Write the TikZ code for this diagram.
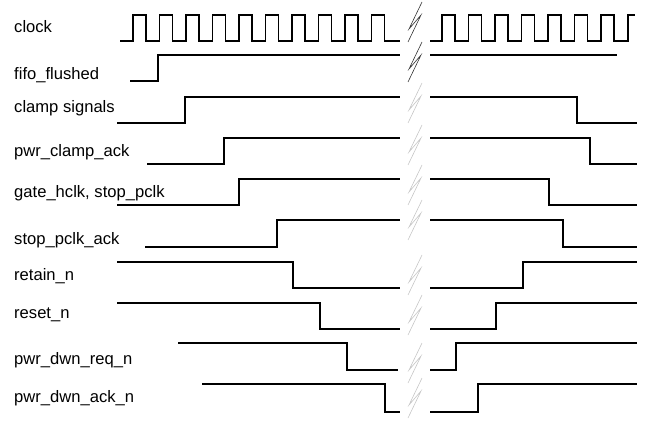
\documentclass[tikz,border=0pt]{standalone}
\usepackage{fontspec}
\setmainfont{Liberation Sans}
\usepackage{tikz}
\usetikzlibrary{positioning}

\tikzset{
  sig/.style={line width=1.7pt, line join=miter},
  lbl/.style={anchor=west, inner sep=0pt, font=\fontsize{16.6}{18}\selectfont},
  brk/.style={line width=0.6pt}
}

\begin{document}
\begin{tikzpicture}[x=1pt, y=-1pt]
  \useasboundingbox (0,0) rectangle (660,425);

  % signal names
  \node[lbl] (clk)   at (14,27)  {clock};
  \node[lbl] (fifo)  at (14,75)  {fifo\_flushed};
  \node[lbl] (clamp) at (14,108) {clamp signals};
  \node[lbl] (cack)  at (14,152) {pwr\_clamp\_ack};
  \node[lbl] (gate)  at (14,193) {gate\_hclk, stop\_pclk};
  \node[lbl] (sack)  at (14,240) {stop\_pclk\_ack};
  \node[lbl] (ret)   at (14,276) {retain\_n};
  \node[lbl] (rst)   at (14,315) {reset\_n};
  \node[lbl] (req)   at (14,360) {pwr\_dwn\_req\_n};
  \node[lbl] (ack)   at (14,398) {pwr\_dwn\_ack\_n};

  % clock, before and after the break
  \draw[sig] (120,41) foreach \i in {0,...,9} {
      -- ({133+26.5*\i},41) -- ({133+26.5*\i},15)
      -- ({146+26.5*\i},15) -- ({146+26.5*\i},41) } -- (400,41);
  \draw[sig] (430,41) foreach \i in {0,...,6} {
      -- ({442+26.5*\i},41) -- ({442+26.5*\i},15)
      -- ({455+26.5*\i},15) -- ({455+26.5*\i},41) }
      -- (628,41) -- (628,15) -- (635,15);

  % power down sequence (left of break)
  \draw[sig] (130,81)  -- (158,81)  -- (158,55)  -- (400,55);
  \draw[sig] (117,123) -- (185,123) -- (185,97)  -- (400,97);
  \draw[sig] (147,164) -- (224,164) -- (224,138) -- (400,138);
  \draw[sig] (117,205) -- (239,205) -- (239,179) -- (400,179);
  \draw[sig] (145,247) -- (277,247) -- (277,220) -- (400,220);
  \draw[sig] (117,262) -- (293,262) -- (293,288) -- (400,288);
  \draw[sig] (117,303) -- (320,303) -- (320,329) -- (400,329);
  \draw[sig] (178,343) -- (347,343) -- (347,370) -- (398,370);
  \draw[sig] (202,384) -- (385,384) -- (385,412) -- (400,412);

  % power up sequence (right of break)
  \draw[sig] (430,55)  -- (617,55);
  \draw[sig] (430,97)  -- (577,97)  -- (577,123) -- (637,123);
  \draw[sig] (430,138) -- (590,138) -- (590,164) -- (637,164);
  \draw[sig] (430,179) -- (549,179) -- (549,205) -- (637,205);
  \draw[sig] (430,220) -- (563,220) -- (563,247) -- (637,247);
  \draw[sig] (430,288) -- (523,288) -- (523,262) -- (637,262);
  \draw[sig] (430,329) -- (496,329) -- (496,303) -- (637,303);
  \draw[sig] (430,370) -- (456,370) -- (456,343) -- (637,343);
  \draw[sig] (430,412) -- (478,412) -- (478,384) -- (637,384);

  % break marks
  \foreach \yc/\col in {22/black!80, 62/black!80, 103/gray!45, 145/gray!45,
                        185/gray!45, 220/gray!45, 275/gray!45, 315/gray!45,
                        363/gray!45, 398/gray!45}
    \draw[brk, \col] (422,\yc-20) -- (409,\yc+7) -- (421,\yc-7) -- (408,\yc+20);
\end{tikzpicture}
\end{document}
